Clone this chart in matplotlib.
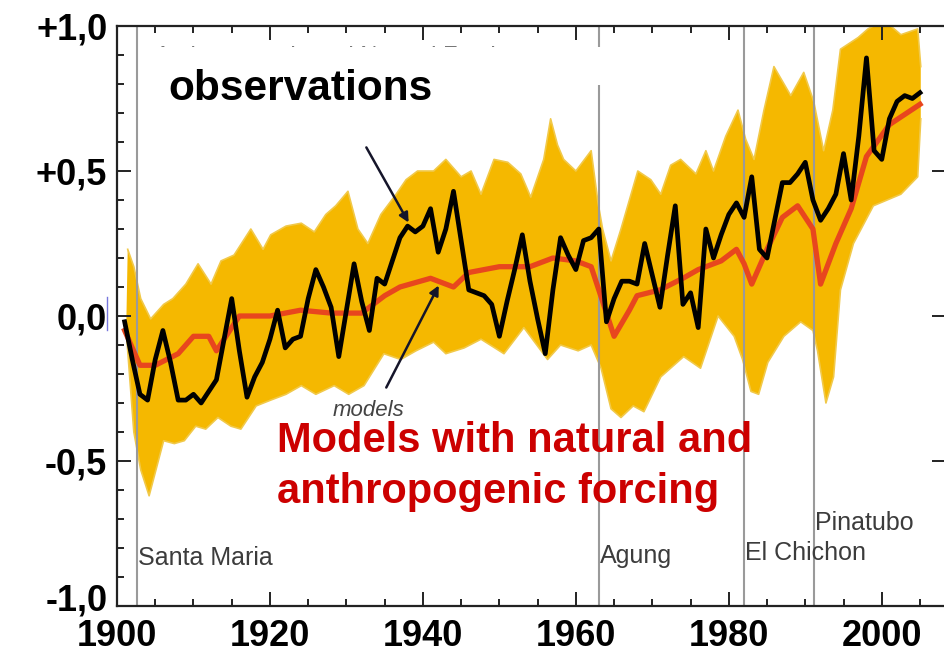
import matplotlib.pyplot as plt
import matplotlib.transforms as mtransforms
from matplotlib.patches import Rectangle
from matplotlib.lines import Line2D
from matplotlib.ticker import MultipleLocator

plt.rcParams['font.family'] = ['Liberation Sans', 'DejaVu Sans']

# observed annual temperature anomalies (black)
obs_years = list(range(1901, 2006))
obs = [-0.02, -0.15, -0.27, -0.29, -0.15, -0.05, -0.16, -0.29, -0.29, -0.27,
       -0.30, -0.26, -0.22, -0.08, 0.06, -0.12, -0.28, -0.21, -0.16, -0.08,
       0.02, -0.11, -0.08, -0.07, 0.06, 0.16, 0.10, 0.03, -0.14, 0.02,
       0.18, 0.05, -0.05, 0.13, 0.11, 0.19, 0.27, 0.31, 0.29, 0.31,
       0.37, 0.22, 0.30, 0.43, 0.26, 0.09, 0.08, 0.07, 0.04, -0.07,
       0.05, 0.16, 0.28, 0.12, -0.01, -0.13, 0.09, 0.27, 0.21, 0.16,
       0.26, 0.27, 0.30, -0.02, 0.06, 0.12, 0.12, 0.11, 0.25, 0.14,
       0.03, 0.21, 0.38, 0.04, 0.08, -0.04, 0.30, 0.20, 0.28, 0.35,
       0.39, 0.34, 0.48, 0.23, 0.20, 0.33, 0.46, 0.46, 0.49, 0.53,
       0.40, 0.33, 0.37, 0.42, 0.56, 0.40, 0.62, 0.89, 0.57, 0.54,
       0.68, 0.74, 0.76, 0.75, 0.77]

# multi-model mean (red)
model_years = [1901, 1903, 1905, 1908, 1910, 1912, 1913, 1916, 1920, 1924, 1928,
               1932, 1935, 1937, 1941, 1944, 1946, 1950, 1954, 1957, 1960, 1962,
               1963, 1965, 1967, 1968, 1971, 1974, 1976, 1979, 1981, 1982, 1983,
               1985, 1987, 1989, 1991, 1992, 1994, 1996, 1997, 1998, 2001, 2005]
model_mean = [-0.05, -0.17, -0.17, -0.13, -0.07, -0.07, -0.12, 0.00, 0.00, 0.02, 0.01,
              0.01, 0.07, 0.10, 0.13, 0.10, 0.15, 0.17, 0.17, 0.20, 0.19, 0.17,
              0.09, -0.07, 0.02, 0.07, 0.09, 0.13, 0.16, 0.19, 0.23, 0.18, 0.11,
              0.23, 0.34, 0.38, 0.30, 0.11, 0.25, 0.37, 0.46, 0.55, 0.66, 0.73]

# envelope of the individual model runs (yellow)
upper_years = [1901.4, 1902.2, 1903.1, 1904.4, 1906.1, 1907.3, 1909.0, 1910.6, 1912.3,
               1913.6, 1915.3, 1917.5, 1919.1, 1920.1, 1922.1, 1924.1, 1925.8, 1927.3,
               1928.6, 1930.2, 1931.5, 1932.8, 1934.5, 1936.5, 1937.8, 1939.3, 1941.4,
               1943.0, 1945.0, 1946.3, 1947.6, 1949.3, 1951.1, 1952.8, 1954.1, 1955.8,
               1956.7, 1957.6, 1958.4, 1960.0, 1962.0, 1962.9, 1963.5, 1964.6, 1965.9,
               1968.1, 1969.8, 1971.1, 1972.4, 1973.7, 1975.7, 1977.0, 1978.0, 1979.6,
               1981.2, 1982.2, 1983.3, 1984.6, 1985.9, 1988.1, 1989.8, 1991.1, 1992.4,
               1993.6, 1994.6, 1996.9, 1998.2, 2000.3, 2002.5, 2004.7, 2005.1]
upper = [0.23, 0.17, 0.06, -0.01, 0.04, 0.06, 0.11, 0.18, 0.11,
         0.19, 0.21, 0.30, 0.23, 0.28, 0.31, 0.32, 0.29, 0.35,
         0.38, 0.43, 0.30, 0.25, 0.35, 0.42, 0.47, 0.50, 0.50,
         0.54, 0.48, 0.50, 0.42, 0.54, 0.53, 0.49, 0.41, 0.54,
         0.68, 0.59, 0.54, 0.50, 0.57, 0.39, 0.30, 0.19, 0.30,
         0.50, 0.47, 0.42, 0.52, 0.54, 0.49, 0.57, 0.50, 0.62,
         0.71, 0.61, 0.54, 0.71, 0.86, 0.76, 0.84, 0.74, 0.57,
         0.71, 0.92, 0.96, 0.99, 1.02, 0.97, 0.99, 0.86]
lower_years = [1901.2, 1902.2, 1903.1, 1904.2, 1905.1, 1906.1, 1907.5, 1908.8, 1910.3,
               1911.6, 1913.2, 1914.9, 1916.2, 1918.2, 1920.1, 1922.1, 1924.1, 1926.0,
               1928.4, 1930.3, 1932.3, 1934.9, 1937.1, 1939.1, 1941.4, 1943.0, 1945.4,
               1947.6, 1950.6, 1953.2, 1956.3, 1958.0, 1960.3, 1962.0, 1963.3, 1964.6,
               1965.9, 1967.5, 1968.9, 1971.1, 1974.1, 1976.3, 1978.6, 1980.7, 1981.8,
               1982.9, 1983.9, 1985.1, 1987.2, 1989.4, 1991.0, 1991.6, 1992.7, 1993.7,
               1994.6, 1996.3, 1998.9, 2002.5, 2004.7, 2005.1]
lower = [-0.05, -0.40, -0.53, -0.62, -0.53, -0.43, -0.44, -0.43, -0.38,
         -0.39, -0.35, -0.38, -0.39, -0.31, -0.29, -0.27, -0.24, -0.27,
         -0.24, -0.27, -0.24, -0.13, -0.15, -0.12, -0.09, -0.13, -0.11,
         -0.08, -0.13, -0.04, -0.15, -0.10, -0.12, -0.10, -0.18, -0.32,
         -0.35, -0.31, -0.33, -0.21, -0.14, -0.18, 0.00, -0.07, -0.15,
         -0.26, -0.27, -0.16, -0.07, -0.02, -0.05, -0.12, -0.30, -0.21,
         0.09, 0.25, 0.38, 0.42, 0.48, 0.68]

volcano_names = ['Santa Maria', 'Agung', 'El Chichon', 'Pinatubo']
volcano_years = [1902.6, 1963.0, 1982.0, 1991.2]

ytick_vals = [-1.0, -0.5, 0.0, 0.5, 1.0]
ytick_labels = ['-1,0', '-0,5', '0,0', '+0,5', '+1,0']
xtick_vals = [1900, 1920, 1940, 1960, 1980, 2000]

W, H = 944, 654


def fx(px):
    return px / W


def fy(py):
    return 1 - py / H


fig = plt.figure(figsize=(W / 100, H / 100), dpi=100)
ax = fig.add_axes([fx(117), 48 / H, (946 - 117) / W, 580 / H])

# model runs
ax.fill(upper_years + lower_years[::-1], upper + lower[::-1],
        color='#F5B800', lw=0, zorder=1)
ax.plot(upper_years, upper, color='#F1C94A', lw=1.2, zorder=1.5)
ax.plot(lower_years, lower, color='#F1C94A', lw=1.2, zorder=1.5)

for yr in volcano_years:
    ax.axvline(yr, color='#9a9a9a', lw=1.5, zorder=2)

ax.plot(model_years, model_mean, color='#E8461E', lw=3.8, zorder=3,
        solid_joinstyle='round')
ax.plot(obs_years, obs, color='black', lw=3.4, zorder=4, solid_joinstyle='round')

ax.set_xlim(1900, 2008.4)
ax.set_ylim(-1.0, 1.0)
ax.set_xticks(xtick_vals)
ax.set_xticklabels([str(v) for v in xtick_vals], fontsize=26, fontweight='bold')
ax.set_yticks(ytick_vals)
ax.set_yticklabels(ytick_labels, fontsize=26, fontweight='bold')
ax.xaxis.set_minor_locator(MultipleLocator(5))
ax.yaxis.set_minor_locator(MultipleLocator(0.1))
ax.tick_params(which='both', direction='in', top=True, right=True, width=1.4,
               color='#222222')
ax.tick_params(which='major', length=10)
ax.tick_params(which='minor', length=5)
ax.tick_params(axis='y', which='minor', right=False)
ax.tick_params(axis='y', pad=7)
ax.tick_params(axis='x', pad=9)
for s in ax.spines.values():
    s.set_linewidth(1.6)
    s.set_color('#222222')

# the bottom y label sits a little above its tick in the reference
fig.canvas.draw()
lowest = ax.get_yticklabels()[0]
lowest.set_transform(lowest.get_transform() +
                     mtransforms.ScaledTranslation(0, 9 / 100, fig.dpi_scale_trans))

# original figure title, mostly hidden under a white patch
ax.text(fx(155), fy(63), 'Anthropogenic and Natural Forcing', transform=fig.transFigure,
        fontsize=17, color='#777777', ha='left', va='baseline', clip_on=False)
fig.add_artist(Rectangle((fx(148), fy(85)), (652 - 148) / W, (85 - 47) / H,
                         transform=fig.transFigure, facecolor='white',
                         edgecolor='none', zorder=2.5))

# volcano names
vol_pos = [(138, 565), (600, 563), (745, 560), (815, 530)]
for name, (px, py) in zip(volcano_names, vol_pos):
    fig.text(fx(px), fy(py), name, fontsize=18, color='#3c3c3c',
             ha='left', va='baseline')

fig.text(fx(168), fy(100), 'observations', fontsize=30.5, fontweight='bold',
         color='black', ha='left', va='baseline', zorder=4)
fig.text(fx(333), fy(416), 'models', fontsize=16, fontstyle='italic',
         color='#444444', ha='left', va='baseline')
fig.text(fx(277), fy(452), 'Models with natural and', fontsize=30,
         fontweight='bold', color='#CC0000', ha='left', va='baseline')
fig.text(fx(277), fy(503), 'anthropogenic forcing', fontsize=30,
         fontweight='bold', color='#CC0000', ha='left', va='baseline')

# arrows
arrow_kw = dict(arrowstyle='-|>', color='#15152a', lw=1.8, mutation_scale=14)
ax.annotate('', xy=(410, H - 225), xytext=(365, H - 145),
            xycoords='figure pixels', textcoords='figure pixels',
            arrowprops=arrow_kw, zorder=5)
ax.annotate('', xy=(440, H - 283), xytext=(385, H - 390),
            xycoords='figure pixels', textcoords='figure pixels',
            arrowprops=arrow_kw, zorder=5)

# small blue mark left of the axis
fig.add_artist(Line2D([fx(107), fx(107)], [fy(297), fy(330)],
                      color='#7777dd', lw=1, transform=fig.transFigure))

fig.savefig('out.png', dpi=100, facecolor='white')
